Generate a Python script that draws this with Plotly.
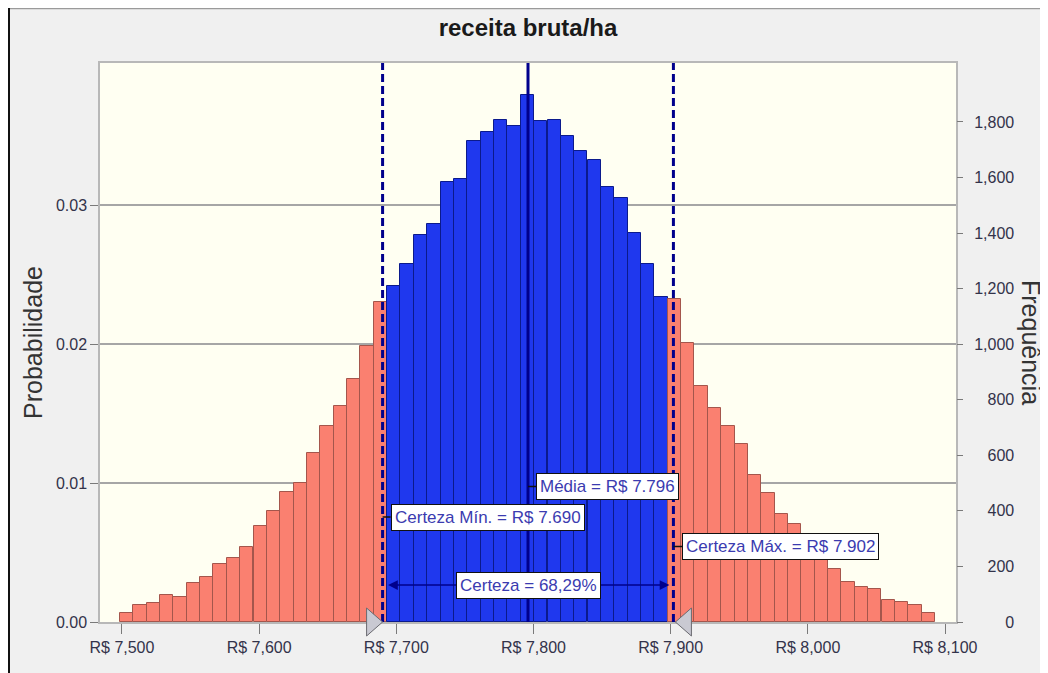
import plotly.graph_objects as go

# ---- data ------------------------------------------------------------------
title = "receita bruta/ha"
bin_width = 9.74
bin_centers = [
    7503.4, 7513.1, 7522.9, 7532.6, 7542.3, 7552.1, 7561.8, 7571.6, 7581.3, 7591.0,
    7600.8, 7610.5, 7620.3, 7630.0, 7639.7, 7649.5, 7659.2, 7669.0, 7678.7, 7688.4,
    7698.2, 7707.9, 7717.7, 7727.4, 7737.1, 7746.9, 7756.6, 7766.4, 7776.1, 7785.8,
    7795.6, 7805.3, 7815.1, 7824.8, 7834.5, 7844.3, 7854.0, 7863.8, 7873.5, 7883.2,
    7893.0, 7902.7, 7912.5, 7922.2, 7931.9, 7941.7, 7951.4, 7961.2, 7970.9, 7980.6,
    7990.4, 8000.1, 8009.9, 8019.6, 8029.3, 8039.1, 8048.8, 8058.6, 8068.3, 8078.0,
    8087.8,
]
frequency = [
    33, 61, 69, 97, 90, 139, 161, 207, 231, 270,
    344, 398, 467, 501, 609, 706, 777, 876, 992, 1153,
    1208, 1290, 1393, 1434, 1584, 1593, 1730, 1763, 1808, 1786,
    1897, 1804, 1808, 1750, 1697, 1664, 1565, 1527, 1401, 1290,
    1171, 1162, 1005, 849, 772, 706, 639, 529, 464, 390,
    354, 290, 222, 189, 143, 125, 117, 78, 72, 60,
    33,
]
trials = 50000
mean_value = 7796
cert_min = 7690
cert_max = 7902
certainty_text = "68,29%"

x_ticks = [7500, 7600, 7700, 7800, 7900, 8000, 8100]
x_tick_labels = ["R$ 7,500", "R$ 7,600", "R$ 7,700", "R$ 7,800", "R$ 7,900", "R$ 8,000", "R$ 8,100"]
prob_ticks = [0, 0.01, 0.02, 0.03]
freq_ticks = [0, 200, 400, 600, 800, 1000, 1200, 1400, 1600, 1800]
freq_tick_labels = ["0", "200", "400", "600", "800", "1,000", "1,200", "1,400", "1,600", "1,800"]

# ---- layout geometry (figure pixels; page body adds an 8px offset) ---------
W, H = 1048, 673
ML, MR, MT, MB = 92, 100, 55, 59
PW, PH = W - ML - MR, H - MT - MB
OFF = 8  # page margin seen in screenshot coordinates
x_range = [7484.0, 8108.0]
prob_max = 0.04024

FONT = "Liberation Sans, Arial, sans-serif"
TEXT_BLUE = "#3b3bb0"
LINE_NAVY = "#00008c"


def paper_x(sx):
    # screenshot x -> paper fraction
    return (sx - OFF - ML) / PW


def paper_y(sy):
    # screenshot y -> paper fraction
    return (H - MB - (sy - OFF)) / PH


def pad_label(s):
    # right-align the right-hand tick labels with figure / punctuation spaces
    digits = sum(c.isdigit() for c in s)
    return "\u2007" * (4 - digits) + ("" if "," in s else "\u2008") + s


in_range = [cert_min <= c <= cert_max for c in bin_centers]
bar_fill = ["#1f38ee" if ok else "#fa8070" for ok in in_range]
bar_edge = ["#0b1a8c" if ok else "#a4564c" for ok in in_range]

fig = go.Figure()

# invisible trace that anchors the probability axis
fig.add_trace(go.Scatter(x=[x_ticks[0]], y=[0], mode="markers",
                         marker=dict(opacity=0), hoverinfo="skip", showlegend=False))

fig.add_trace(go.Bar(
    x=bin_centers, y=frequency, width=bin_width, yaxis="y2",
    marker=dict(color=bar_fill, line=dict(color=bar_edge, width=1)),
    showlegend=False, name="Frequência",
))

shapes = []
# window frame: gray top edge, black left edge
shapes.append(dict(type="line", xref="paper", yref="paper",
                   x0=paper_x(OFF), x1=paper_x(OFF + W), y0=paper_y(OFF + 0.5), y1=paper_y(OFF + 0.5),
                   line=dict(color="#9a9a9a", width=1.5)))
shapes.append(dict(type="line", xref="paper", yref="paper",
                   x0=paper_x(OFF + 1), x1=paper_x(OFF + 1), y0=paper_y(OFF), y1=paper_y(OFF + H),
                   line=dict(color="#111111", width=2)))

# certainty bounds and mean
for xv in (cert_min, cert_max):
    shapes.append(dict(type="line", xref="x", yref="paper", x0=xv, x1=xv, y0=0, y1=1,
                       line=dict(color=LINE_NAVY, width=3, dash="8px,4px")))
shapes.append(dict(type="line", xref="x", yref="paper", x0=mean_value, x1=mean_value,
                   y0=0, y1=1, line=dict(color=LINE_NAVY, width=3)))

# certainty grabbers
for xv, path in ((cert_min, "M 0,0 L -16,14 L -16,-14 Z"),
                 (cert_max, "M 2,0 L 18,14 L 18,-14 Z")):
    shapes.append(dict(type="path", xref="x", yref="paper",
                       xsizemode="pixel", ysizemode="pixel", xanchor=xv, yanchor=0,
                       path=path, fillcolor="#c9c9d2", line=dict(color="#6a6a70", width=1)))

label_style = dict(font=dict(family=FONT, size=17, color=TEXT_BLUE),
                   bgcolor="white", bordercolor="#111111", borderwidth=1, borderpad=3)

annotations = [
    dict(x=mean_value, xref="x", y=paper_y(486.5), yref="paper",
         text="Média = R$ 7.796", xanchor="left", yanchor="middle",
         showarrow=True, arrowhead=0, arrowwidth=1.5, arrowcolor="#111111",
         ax=8, ay=0, **label_style),
    dict(x=cert_min, xref="x", y=paper_y(517), yref="paper",
         text="Certeza Mín. = R$ 7.690", xanchor="left", yanchor="middle",
         showarrow=True, arrowhead=0, arrowwidth=1.5, arrowcolor="#111111",
         ax=8, ay=0, **label_style),
    dict(x=cert_max, xref="x", y=paper_y(546.5), yref="paper",
         text="Certeza Máx. = R$ 7.902", xanchor="left", yanchor="middle",
         showarrow=True, arrowhead=0, arrowwidth=1.5, arrowcolor="#111111",
         ax=9, ay=0, **label_style),
    # double-headed certainty arrow
    dict(x=cert_max, xref="x", y=paper_y(585), yref="paper",
         ax=cert_min, axref="x", ay=0, ayref="pixel", text="",
         showarrow=True, arrowside="end+start", arrowhead=2, arrowsize=1.3,
         arrowwidth=1.5, arrowcolor=LINE_NAVY, standoff=4, startstandoff=4),
    dict(x=(cert_min + cert_max) / 2, xref="x", y=paper_y(585), yref="paper",
         text=f"Certeza = {certainty_text}", showarrow=False,
         xanchor="center", yanchor="middle", **label_style),
    # right axis title, reading top to bottom
    dict(x=paper_x(1031), xref="paper", y=paper_y(342), yref="paper",
         text="Frequência", textangle=90, showarrow=False,
         font=dict(family=FONT, size=25, color="#333333"),
         xanchor="center", yanchor="middle"),
]

tick_font = dict(family=FONT, size=16, color="#33334a")

fig.update_layout(
    width=W, height=H,
    margin=dict(l=ML, r=MR, t=MT, b=MB, autoexpand=False),
    paper_bgcolor="#f0f0f0",
    plot_bgcolor="#fffff2",
    bargap=0,
    title=dict(text=f"<b>{title}</b>", x=(528 - OFF) / W, xanchor="center",
               y=1 - (28 - OFF) / H, yanchor="middle",
               font=dict(family=FONT, size=24, color="#1a1a1a")),
    xaxis=dict(range=x_range, tickmode="array", tickvals=x_ticks, ticktext=x_tick_labels,
               ticks="outside", ticklen=10, tickcolor="#7a7a7a", tickwidth=1,
               tickfont=tick_font, showgrid=False, zeroline=False,
               showline=True, linecolor="#b8b8b8", linewidth=1.5, mirror=True),
    yaxis=dict(range=[0, prob_max], tickmode="array", tickvals=prob_ticks,
               tickformat=".2f", ticks="outside", ticklen=8, tickcolor="#7a7a7a",
               tickfont=tick_font, showgrid=True, gridcolor="#a6a6a6", gridwidth=1.5,
               zeroline=False, showline=True, linecolor="#b8b8b8", linewidth=1.5,
               mirror=True,
               title=dict(text="Probabilidade", standoff=6,
                          font=dict(family=FONT, size=25, color="#333333"))),
    yaxis2=dict(range=[0, prob_max * trials], overlaying="y", side="right",
                tickmode="array", tickvals=freq_ticks,
                ticktext=[pad_label(s) for s in freq_tick_labels],
                ticks="outside", ticklen=6, tickcolor="#7a7a7a", ticklabelstandoff=8,
                tickfont=tick_font, showgrid=False, zeroline=False, showline=False),
    shapes=shapes,
    annotations=annotations,
)

fig.write_html("out.html")
